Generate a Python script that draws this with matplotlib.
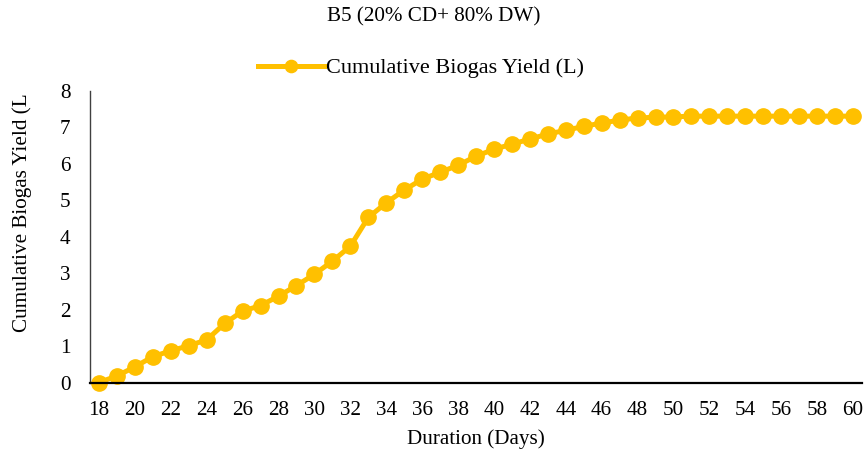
import numpy as np
import matplotlib.pyplot as plt

# data
days = list(range(18, 61))
biogas = [0.00, 0.18, 0.43, 0.71, 0.87, 1.01, 1.17, 1.62, 1.96, 2.11,
          2.37, 2.66, 2.97, 3.33, 3.74, 4.53, 4.93, 5.28, 5.58, 5.77,
          5.96, 6.21, 6.40, 6.54, 6.68, 6.82, 6.92, 7.03, 7.12, 7.20,
          7.26, 7.28, 7.29, 7.31, 7.31, 7.31, 7.31, 7.31, 7.31, 7.31,
          7.31, 7.31, 7.31]
tick_days = list(range(18, 61, 2))

plt.rcParams['font.family'] = ['Liberation Serif', 'DejaVu Serif']
fs = 15.2

fig = plt.figure(figsize=(8.67, 4.57), dpi=100)
ax = fig.add_axes([90/867, 1-382.5/457, (862-90)/867, (382.5-91)/457])

ax.plot(days, biogas, '-o', color='#FFC000', lw=3.6, ms=11,
        label='Cumulative Biogas Yield (L)')

ax.set_xlim(17.5, 60.5)
ax.set_ylim(0, 8)
ax.set_xticks(tick_days)
ax.set_yticks(range(0, 9))
ax.tick_params(length=0, labelsize=fs)
ax.tick_params(axis='x', pad=13)
ax.tick_params(axis='y', pad=14)
for s in ['top', 'right']:
    ax.spines[s].set_visible(False)
ax.spines['bottom'].set_linewidth(1.6)
ax.spines['bottom'].set_color('black')
ax.spines['left'].set_linewidth(1.0)
ax.spines['left'].set_color('#404040')
for ln in ax.lines:
    ln.set_clip_on(False)

ax.set_xlabel('Duration (Days)', fontsize=fs, labelpad=7)
fig.text(22/867, 1-332/457, 'Cumulative Biogas Yield (L', rotation=90,
         ha='center', va='bottom', fontsize=fs)
fig.text(0.5, 1-17/457, 'B5 (20% CD+ 80% DW)', ha='center', va='center',
         fontsize=fs)
fig.legend(loc='center', bbox_to_anchor=(421/867, 1-68/457), frameon=False,
           fontsize=16, handlelength=3.0, handletextpad=0.1, markerscale=0.8)

plt.savefig('out.png', dpi=100)
